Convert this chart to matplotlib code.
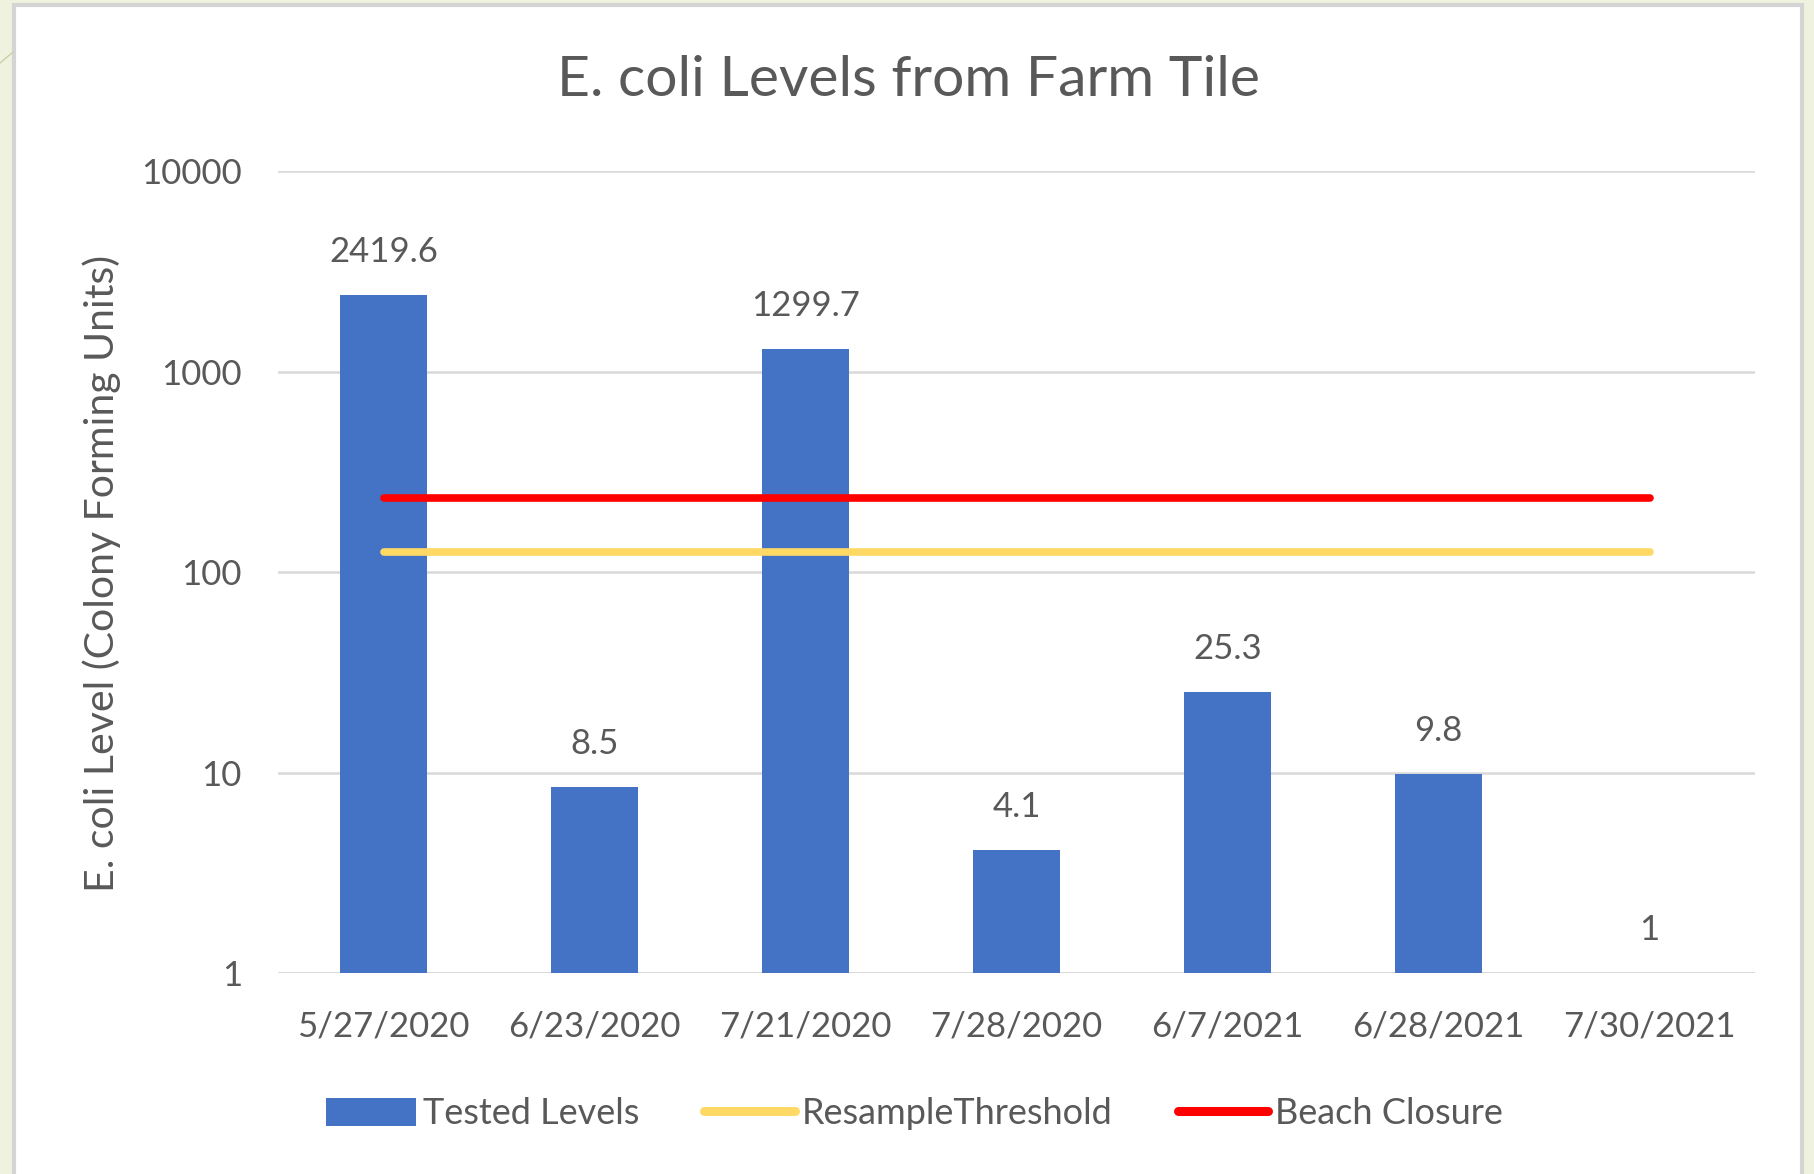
import matplotlib.pyplot as plt
from matplotlib.patches import Rectangle, Patch
from matplotlib.lines import Line2D

plt.switch_backend('AGG')

# data
dates = ['5/27/2020', '6/23/2020', '7/21/2020', '7/28/2020', '6/7/2021', '6/28/2021', '7/30/2021']
tested = [2419.6, 8.5, 1299.7, 4.1, 25.3, 9.8, 1]
resample_threshold = [126] * len(dates)
beach_closure = [235] * len(dates)
label_text = ['2419.6', '8.5', '1299.7', '4.1', '25.3', '9.8', '1']
y_ticks = [1, 10, 100, 1000, 10000]

grey = '#595959'
plt.rcParams['font.family'] = ['Lato', 'DejaVu Sans']

fig = plt.figure(figsize=(18.14, 11.74), dpi=100)
fig.patch.set_facecolor('#eef2de')

# white chart panel on the slide
panel = Rectangle((14 / 1814, -0.02), (1802 - 14) / 1814, 1.02 - 5 / 1174,
                  transform=fig.transFigure, facecolor='white', edgecolor='#d4d4d4',
                  linewidth=3, zorder=-5)
fig.patches.append(panel)
fig.lines.append(Line2D([0, 13 / 1814], [1 - 63 / 1174, 1 - 52 / 1174],
                        transform=fig.transFigure, color='#c9d1ac', linewidth=1, zorder=-4))

ax = fig.add_axes([278 / 1814, 1 - 973 / 1174, (1755 - 278) / 1814, (973 - 171) / 1174])
ax.set_facecolor('none')
ax.set_zorder(2)

x = list(range(len(dates)))
heights = [v - 1 for v in tested]
ax.bar(x, heights, bottom=1, width=0.41, color='#4472C4', zorder=3)
ax.plot(x, resample_threshold, color='#FFD966', linewidth=5.5, solid_capstyle='round', zorder=4)
ax.plot(x, beach_closure, color='#FF0000', linewidth=5.5, solid_capstyle='round', zorder=4)

for xi, v, t in zip(x, tested, label_text):
    ax.annotate(t, (xi, v), xytext=(0, 31), textcoords='offset points',
                ha='center', va='center', fontsize=25, color=grey)

ax.set_yscale('log')
ax.set_ylim(1, 10000)
ax.set_xlim(-0.5, len(dates) - 0.5)
ax.set_yticks(y_ticks)
ax.set_yticklabels([str(t) for t in y_ticks])
ax.minorticks_off()
ax.set_xticks(x)
ax.set_xticklabels(dates)
ax.tick_params(axis='both', length=0, labelsize=25, labelcolor=grey)
ax.tick_params(axis='x', pad=27)
ax.tick_params(axis='y', pad=26)
ax.grid(axis='y', color='#d9d9d9', linewidth=1.8, zorder=0)
for s in ax.spines.values():
    s.set_visible(False)
ax.axhline(1, color='#d9d9d9', linewidth=2, zorder=2)

fig.text(0.501, 1 - 81 / 1174, 'E. coli Levels from Farm Tile', ha='center', va='center',
         fontsize=41, color=grey)
fig.text(102 / 1814, 1 - 573 / 1174, 'E. coli Level (Colony Forming Units)', ha='center',
         va='center', rotation=90, fontsize=29.5, color=grey)

handles = [Patch(facecolor='#4472C4'),
           Line2D([], [], color='#FFD966', linewidth=6.5, solid_capstyle='round'),
           Line2D([], [], color='#FF0000', linewidth=6.5, solid_capstyle='round')]
fig.legend(handles, ['Tested Levels', 'ResampleThreshold', 'Beach Closure'], ncol=3,
           loc='center', bbox_to_anchor=(0.504, 1 - 1114 / 1174), frameon=False,
           fontsize=26, labelcolor=grey, handlelength=2.5, handleheight=0.8,
           handletextpad=0.2, columnspacing=1.8)

fig.savefig('out.png', dpi=100, facecolor=fig.get_facecolor())
plt.close(fig)
